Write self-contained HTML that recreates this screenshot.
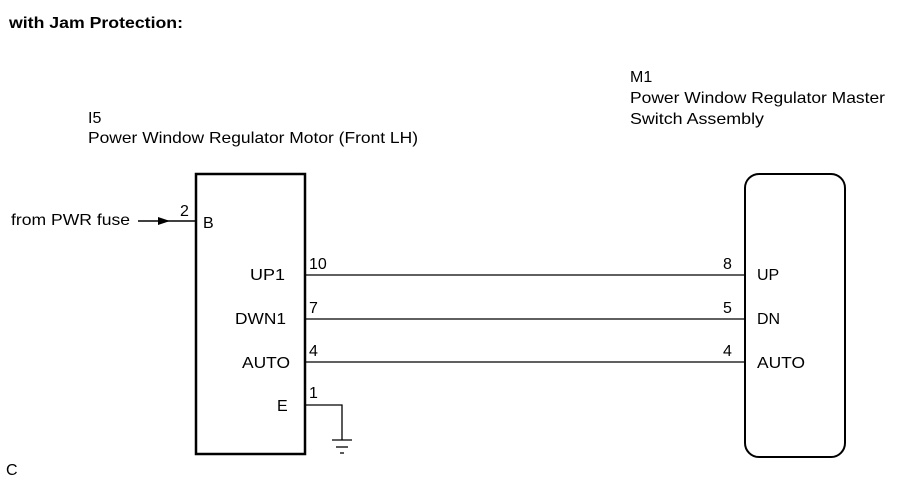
<!DOCTYPE html>
<html><head><style>body{margin:0;background:#fff}</style></head><body>
<svg width="906" height="483" xmlns="http://www.w3.org/2000/svg" font-family="Liberation Sans, sans-serif" font-size="16" fill="#000">
<text x="9" y="28" font-weight="bold" font-size="15.5" textLength="174" lengthAdjust="spacingAndGlyphs">with Jam Protection:</text>
<text x="630" y="82">M1</text>
<text x="630" y="103" textLength="255" lengthAdjust="spacingAndGlyphs">Power Window Regulator Master</text>
<text x="630" y="124" textLength="134" lengthAdjust="spacingAndGlyphs">Switch Assembly</text>
<text x="88" y="123">I5</text>
<text x="88" y="143" textLength="330" lengthAdjust="spacingAndGlyphs">Power Window Regulator Motor (Front LH)</text>
<rect x="196" y="174" width="109" height="280" fill="none" stroke="#000" stroke-width="2.5"/>
<rect x="745" y="174" width="100" height="283" rx="14" fill="none" stroke="#000" stroke-width="2"/>
<text x="11" y="225" textLength="119" lengthAdjust="spacingAndGlyphs">from PWR fuse</text>
<line x1="138" y1="221" x2="196" y2="221" stroke="#000" stroke-width="1.5"/>
<polygon points="158,217 170,221 158,225" fill="#000"/>
<text x="180" y="216">2</text>
<text x="203" y="228">B</text>
<g stroke="#000" stroke-width="1.3">
<line x1="305" y1="275" x2="745" y2="275"/>
<line x1="305" y1="319" x2="745" y2="319"/>
<line x1="305" y1="362" x2="745" y2="362"/>
<polyline points="305,405 342,405 342,440" fill="none"/>
<line x1="332" y1="440" x2="352" y2="440"/>
<line x1="336" y1="447" x2="348" y2="447"/>
<line x1="340" y1="453" x2="344" y2="453"/>
</g>
<text x="250" y="280" textLength="35" lengthAdjust="spacingAndGlyphs">UP1</text>
<text x="235" y="324" textLength="51" lengthAdjust="spacingAndGlyphs">DWN1</text>
<text x="242" y="368" textLength="48" lengthAdjust="spacingAndGlyphs">AUTO</text>
<text x="277" y="411">E</text>
<text x="309" y="269">10</text>
<text x="309" y="313">7</text>
<text x="309" y="356">4</text>
<text x="309" y="398">1</text>
<text x="723" y="269">8</text>
<text x="723" y="313">5</text>
<text x="723" y="356">4</text>
<text x="757" y="280">UP</text>
<text x="757" y="324">DN</text>
<text x="757" y="368" textLength="48" lengthAdjust="spacingAndGlyphs">AUTO</text>
<text x="6" y="475">C</text>
</svg>
</body></html>
